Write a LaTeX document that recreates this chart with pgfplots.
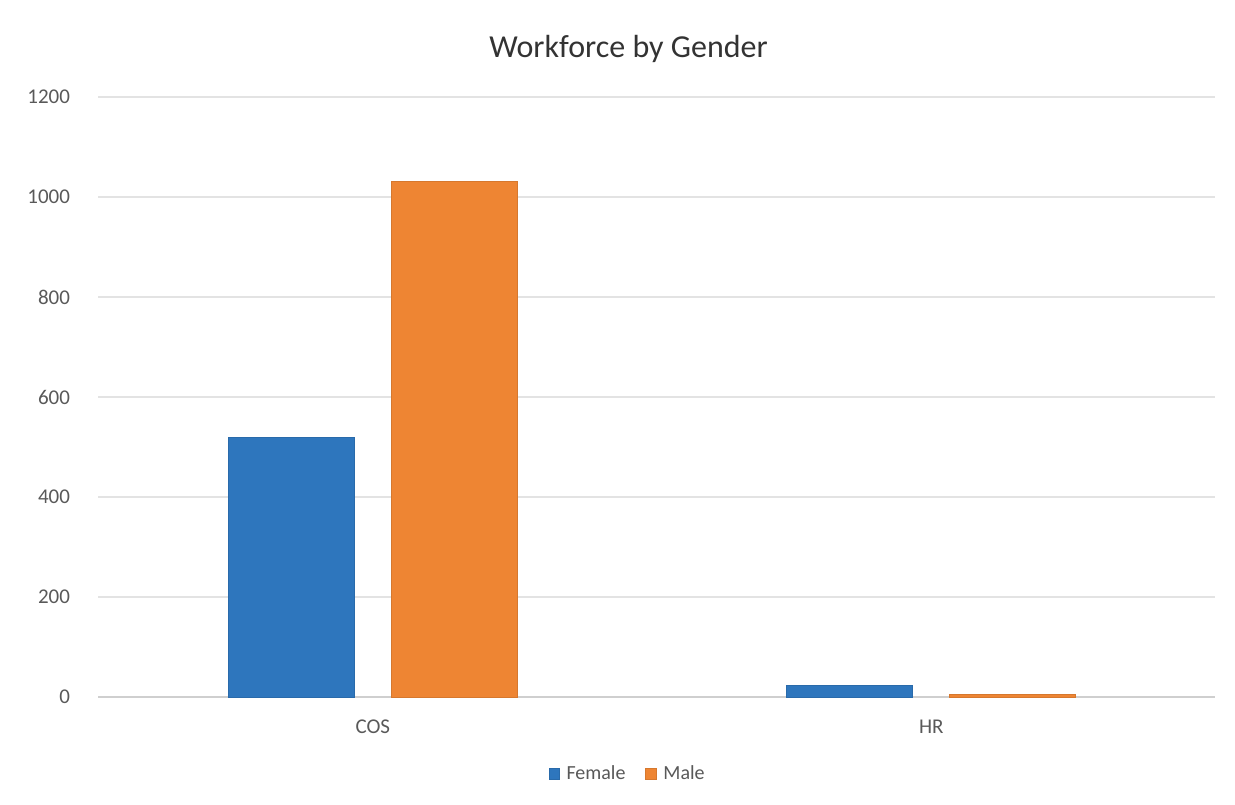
\documentclass[border=0pt]{standalone}
\usepackage{fontspec}
\setmainfont{Carlito}
\usepackage{pgfplots}
\pgfplotsset{compat=1.18}
\definecolor{fem}{HTML}{2E76BD}
\definecolor{mal}{HTML}{EE8533}
\definecolor{txt}{HTML}{595959}
\definecolor{grd}{HTML}{E3E3E3}
\begin{document}
\begin{tikzpicture}
\path[use as bounding box] (-49pt,-53.5pt) rectangle (568.5pt,348.5pt);
\begin{axis}[
  at={(0,0)}, anchor=south west,
  scale only axis, width=558.5pt, height=300pt,
  xmin=-0.492, xmax=1.508, ymin=0, ymax=1200,
  ytick={0,200,...,1200},
  xtick={0,1}, xticklabels={COS,HR},
  /pgf/number format/assume math mode=true,
  /pgf/number format/1000 sep={},
  ymajorgrids, grid style={grd, line width=0.6pt},
  axis line style={draw=none},
  major tick length=0pt,
  tick label style={font=\fontsize{10.5}{12}\selectfont, text=txt},
  yticklabel style={xshift=-10.5pt},
  xticklabel style={yshift=-8pt},
  title={Workforce by Gender},
  title style={font=\fontsize{16}{19}\selectfont, text=black!80, at={(axis description cs:0.475,1.06)}, anchor=center},
  legend style={at={(axis description cs:0.475,-0.128)}, anchor=center, draw=none, legend columns=2,
    font=\fontsize{10}{12}\selectfont, text=txt,
    /tikz/every even column/.append style={column sep=8pt},
    /tikz/every odd column/.append style={column sep=1.5pt}},
  legend image code/.code={\fill[#1] (0pt,-2.6pt) rectangle (5.2pt,2.6pt);},
  bar width=63pt,
  clip=false,
]
\draw[grd!80!gray, line width=0.7pt] (axis cs:-0.492,0) -- (axis cs:1.508,0);
\addplot[ybar, fill=fem, draw=fem!90!black, line width=0.3pt, bar shift=-40.75pt] coordinates {(0,520) (1,24)};
\addplot[ybar, fill=mal, draw=mal!90!black, line width=0.3pt, bar shift=40.75pt] coordinates {(0,1032) (1,5)};
\legend{Female,Male}
\end{axis}
\end{tikzpicture}
\end{document}
